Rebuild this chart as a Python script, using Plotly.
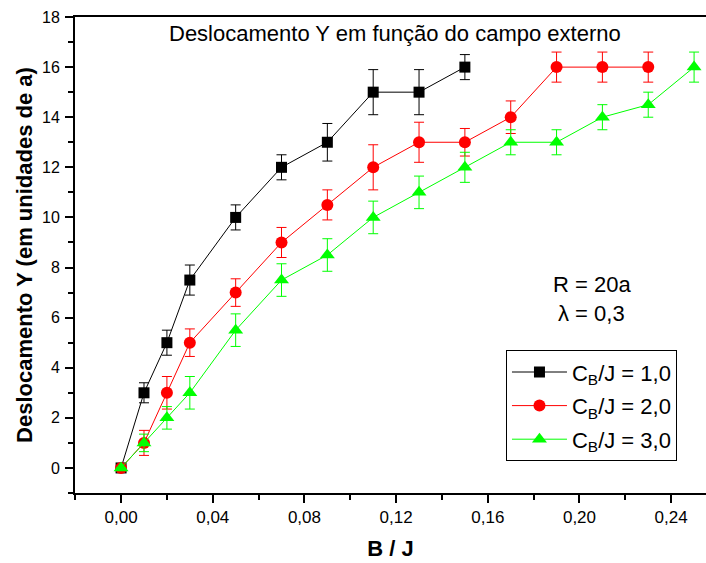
import plotly.graph_objects as go

# Data
x1 = [0.00, 0.01, 0.02, 0.03, 0.05, 0.07, 0.09, 0.11, 0.13, 0.15]
y1 = [0, 3, 5, 7.5, 10, 12, 13, 15, 15, 16]
e1 = [0, 0.4, 0.5, 0.6, 0.5, 0.5, 0.75, 0.9, 0.9, 0.5]

x2 = [0.00, 0.01, 0.02, 0.03, 0.05, 0.07, 0.09, 0.11, 0.13, 0.15, 0.17, 0.19, 0.21, 0.23]
y2 = [0, 1, 3, 5, 7, 9, 10.5, 12, 13, 13, 14, 16, 16, 16]
e2 = [0, 0.5, 0.65, 0.55, 0.55, 0.6, 0.6, 0.9, 0.8, 0.55, 0.65, 0.6, 0.6, 0.6]

x3 = [0.00, 0.01, 0.02, 0.03, 0.05, 0.07, 0.09, 0.11, 0.13, 0.15, 0.17, 0.19, 0.21, 0.23, 0.25]
y3 = [0, 1, 2, 3, 5.5, 7.5, 8.5, 10, 11, 12, 13, 13, 14, 14.5, 16]
e3 = [0, 0.35, 0.45, 0.65, 0.65, 0.65, 0.65, 0.65, 0.65, 0.6, 0.5, 0.5, 0.5, 0.5, 0.6]

names = ["C<sub>B</sub>/J = 1,0", "C<sub>B</sub>/J = 2,0", "C<sub>B</sub>/J = 3,0"]
colors = ["#000000", "#FF0000", "#00FF00"]
symbols = ["square", "circle", "triangle-up"]
sizes = [11, 12, 13]

x_ticks = [0.0, 0.04, 0.08, 0.12, 0.16, 0.20, 0.24]
x_minor = [-0.02, 0.02, 0.06, 0.10, 0.14, 0.18, 0.22]
y_ticks = [0, 2, 4, 6, 8, 10, 12, 14, 16, 18]
y_minor = [-1, 1, 3, 5, 7, 9, 11, 13, 15, 17]

fig = go.Figure()
for i, (xs, ys, es, nm, c, s, sz) in enumerate(zip([x1, x2, x3], [y1, y2, y3], [e1, e2, e3], names, colors, symbols, sizes)):
    fig.add_trace(go.Scatter(
        x=xs, y=ys, name=nm, mode="lines+markers", legendgroup=f"g{i}",
        line=dict(color=c, width=1),
        marker=dict(symbol=s, size=sz, color=c, line=dict(width=0)),
        error_y=dict(type="data", array=es, visible=True, color=c, thickness=1, width=5),
    ))

font_family = "Arial, Liberation Sans, sans-serif"

fig.update_layout(
    width=706, height=563,
    margin=dict(l=75, r=0, t=17, b=70),
    paper_bgcolor="white", plot_bgcolor="white",
    separators=",.",
    font=dict(family=font_family, color="black"),
    showlegend=True,
    legend=dict(
        x=0.683, y=0.30, xanchor="left", yanchor="top",
        bordercolor="black", borderwidth=1, bgcolor="white",
        font=dict(size=22, family=font_family),
        tracegroupgap=2, itemwidth=55,
    ),
    xaxis=dict(
        range=[-0.0201, 0.2552],
        tickvals=x_ticks,
        tickformat=".2f",
        ticks="outside", ticklen=8, tickwidth=1.5, tickcolor="black",
        minor=dict(tickvals=x_minor, ticks="outside", ticklen=5, tickwidth=1.5, tickcolor="black"),
        showline=True, linecolor="black", linewidth=2, mirror=True,
        showgrid=False, zeroline=False,
        tickfont=dict(size=17, family=font_family),
        title=dict(text="<b>B / J</b>", font=dict(size=22, family=font_family), standoff=14),
    ),
    yaxis=dict(
        range=[-1, 18],
        tickvals=y_ticks,
        ticks="outside", ticklen=8, tickwidth=1.5, tickcolor="black",
        minor=dict(tickvals=y_minor, ticks="outside", ticklen=5, tickwidth=1.5, tickcolor="black"),
        showline=True, linecolor="black", linewidth=2, mirror=False,
        showgrid=False, zeroline=False,
        tickfont=dict(size=16, family=font_family),
        ticklabelstandoff=2,
        title=dict(text="<b>Deslocamento Y (em unidades de a)</b>", font=dict(size=22, family=font_family), standoff=3),
    ),
    annotations=[
        dict(text="Deslocamento Y em função do campo externo", x=0.507, y=0.966, xref="paper", yref="paper",
             xanchor="center", yanchor="middle", showarrow=False, font=dict(size=22, family=font_family)),
        dict(text="R = 20a", x=0.819, y=0.437, xref="paper", yref="paper",
             xanchor="center", yanchor="middle", showarrow=False, font=dict(size=22, family=font_family)),
        dict(text="λ = 0,3", x=0.819, y=0.378, xref="paper", yref="paper",
             xanchor="center", yanchor="middle", showarrow=False, font=dict(size=22, family=font_family)),
    ],
)

fig.write_html("out.html")
